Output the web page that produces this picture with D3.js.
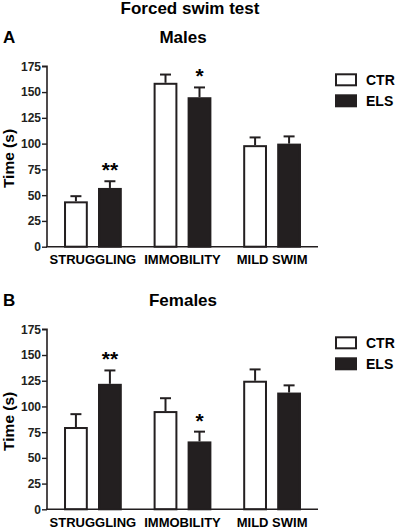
<!DOCTYPE html>
<html>
<head>
<meta charset="utf-8">
<script src="https://cdn.jsdelivr.net/npm/d3@7"></script>
<style>
  body { margin: 0; background: #fff; }
  svg { display: block; font-family: "Liberation Sans", Arial, Helvetica, sans-serif; font-weight: bold; }
</style>
</head>
<body>
<svg id="chart" width="397" height="529"></svg>
<script>
// data (seconds)
const categories = ["STRUGGLING", "IMMOBILITY", "MILD SWIM"]
const groups = ["CTR", "ELS"]
const yTicks = [0, 25, 50, 75, 100, 125, 150, 175]

const malesCTR = [44, 159, 98.5]
const malesCTRerr = [5, 8, 7.5]
const malesELS = [57, 145, 100]
const malesELSerr = [6.5, 9.5, 7]
const malesSig = ["**", "*", ""]

const femalesCTR = [80, 95.5, 125]
const femalesCTRerr = [12.5, 12.5, 11]
const femalesELS = [122, 66, 113.5]
const femalesELSerr = [13, 9.5, 7]
const femalesSig = ["**", "*", ""]

const fills = {CTR: "#ffffff", ELS: "#231f20"}

const svg = d3.select("#chart")

svg.append("text")
	.attr("x", 190).attr("y", 14)
	.attr("text-anchor", "middle")
	.style("font-size", "17px")
	.text("Forced swim test")

function drawPanel({top, bottom, letter, title, ctr, ctrErr, els, elsErr, sig}) {
	const g = svg.append("g")

	const y = d3.scaleLinear().domain([0, 175]).range([bottom, top])
	const x = d3.scaleBand().domain(categories).range([47, 318])
		.paddingInner(0.355).paddingOuter(0.19)
	const xs = d3.scaleBand().domain(groups).range([0, x.bandwidth()]).paddingInner(0.3)

	g.append("text").attr("x", 3).attr("y", top - 23)
		.style("font-size", "17px").text(letter)
	g.append("text").attr("x", 183).attr("y", top - 23)
		.attr("text-anchor", "middle")
		.style("font-size", "17px").text(title)

	// bars
	const rows = []
	categories.forEach(function(c, i) {
		rows.push({cat: c, grp: "CTR", v: ctr[i], e: ctrErr[i], sig: ""})
		rows.push({cat: c, grp: "ELS", v: els[i], e: elsErr[i], sig: sig[i]})
	})

	const bar = g.selectAll(".bar").data(rows).enter().append("g")
		.attr("transform", function(d) { return "translate(" + (x(d.cat) + xs(d.grp)) + ",0)" })

	const bw = xs.bandwidth()
	// error bars (upper only)
	bar.append("line")
		.attr("x1", bw / 2).attr("x2", bw / 2)
		.attr("y1", function(d) { return y(d.v) }).attr("y2", function(d) { return y(d.v + d.e) })
		.attr("stroke", "#231f20").attr("stroke-width", 2)
	bar.append("line")
		.attr("x1", bw / 2 - 5.5).attr("x2", bw / 2 + 5.5)
		.attr("y1", function(d) { return y(d.v + d.e) }).attr("y2", function(d) { return y(d.v + d.e) })
		.attr("stroke", "#231f20").attr("stroke-width", 2)

	bar.append("rect")
		.attr("x", 1).attr("width", bw - 2)
		.attr("y", function(d) { return y(d.v) + 1 })
		.attr("height", function(d) { return y(0) - y(d.v) - 1 })
		.attr("fill", function(d) { return fills[d.grp] })
		.attr("stroke", "#231f20").attr("stroke-width", 2)

	bar.append("text")
		.attr("x", bw / 2)
		.attr("y", function(d) { return y(d.v + d.e) - 4 })
		.attr("text-anchor", "middle")
		.style("font-size", "21px")
		.text(function(d) { return d.sig })

	// axes
	const yAxis = g.append("g").attr("transform", "translate(47,0)")
		.call(d3.axisLeft(y).tickValues(yTicks).tickSize(5).tickPadding(1))
	yAxis.select(".domain").attr("stroke", "#231f20").attr("stroke-width", 1.6)
		.attr("d", "M-5," + top + "H0V" + bottom)
	yAxis.selectAll(".tick line").attr("stroke", "#231f20").attr("stroke-width", 1.4)
	yAxis.selectAll(".tick text").style("font-size", "12px").style("font-weight", "bold")
		.style("font-family", "'Liberation Sans', Arial, sans-serif").attr("fill", "#231f20")

	g.append("line")
		.attr("x1", 46).attr("x2", 318)
		.attr("y1", y(0)).attr("y2", y(0))
		.attr("stroke", "#231f20").attr("stroke-width", 1.6)

	g.selectAll(".cat").data(categories).enter().append("text")
		.attr("x", function(d) { return x(d) + x.bandwidth() / 2 })
		.attr("y", y(0) + 17.5)
		.attr("text-anchor", "middle")
		.style("font-size", "13px")
		.text(function(d) { return d })

	g.append("text")
		.attr("transform", "translate(13.5," + ((top + bottom) / 2 + 2) + ") rotate(-90)")
		.attr("text-anchor", "middle")
		.style("font-size", "15.5px")
		.text("Time (s)")

	// legend
	const lg = g.selectAll(".leg").data(groups).enter().append("g")
		.attr("transform", function(d, i) { return "translate(335," + (top + 8 + i * 21) + ")" })
	lg.append("rect").attr("x", 1).attr("y", 0).attr("width", 20).attr("height", 11)
		.attr("fill", function(d) { return fills[d] })
		.attr("stroke", "#231f20").attr("stroke-width", 2)
	lg.append("text").attr("x", 31).attr("y", 10.5)
		.style("font-size", "14px")
		.text(function(d) { return d })
}

drawPanel({top: 66.3, bottom: 246.7, letter: "A", title: "Males",
	ctr: malesCTR, ctrErr: malesCTRerr, els: malesELS, elsErr: malesELSerr, sig: malesSig})
drawPanel({top: 329.3, bottom: 509.3, letter: "B", title: "Females",
	ctr: femalesCTR, ctrErr: femalesCTRerr, els: femalesELS, elsErr: femalesELSerr, sig: femalesSig})
</script>
</body>
</html>
